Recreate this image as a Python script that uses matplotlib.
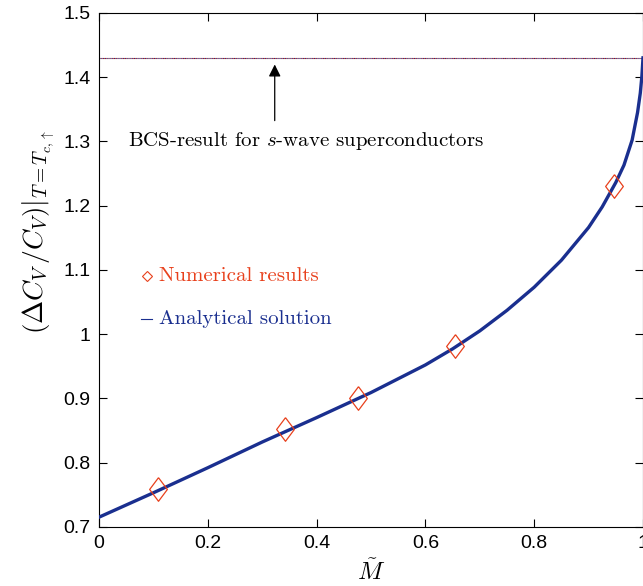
import matplotlib
matplotlib.use("Agg")
import matplotlib.pyplot as plt

# numerical results (diamonds)
num_x = [0.109, 0.341, 0.476, 0.654, 0.946]
num_y = [0.759, 0.852, 0.901, 0.982, 1.231]

# analytical solution
ana_x = [0.0, 0.1, 0.2, 0.3, 0.4, 0.5, 0.6, 0.65, 0.7, 0.75, 0.8, 0.85,
         0.9, 0.925, 0.95, 0.965, 0.98, 0.99, 0.995, 0.998, 1.0]
ana_y = [0.715, 0.753, 0.792, 0.832, 0.870, 0.909, 0.952, 0.977, 1.005,
         1.037, 1.073, 1.115, 1.166, 1.198, 1.236, 1.263, 1.302, 1.345,
         1.375, 1.402, 1.430]

bcs_value = 1.43

x_ticks = [0, 0.2, 0.4, 0.6, 0.8, 1]
x_ticklabels = ["0", "0.2", "0.4", "0.6", "0.8", "1"]
y_ticks = [0.7, 0.8, 0.9, 1.0, 1.1, 1.2, 1.3, 1.4, 1.5]
y_ticklabels = ["0.7", "0.8", "0.9", "1", "1.1", "1.2", "1.3", "1.4", "1.5"]

RED = "#e8401c"
BLUE = "#1a2f8f"

# slightly tall diamond, like the matlab one
tall_diamond = [(0, 1), (0.75, 0), (0, -1), (-0.75, 0), (0, 1)]

plt.rcParams["mathtext.fontset"] = "cm"
plt.rcParams["font.family"] = ["Liberation Sans", "DejaVu Sans"]

fig = plt.figure(figsize=(6.43, 5.86), dpi=100)
ax = fig.add_axes([0.154, 0.101, 0.846, 0.877])

# BCS limit: red and blue dotted lines on top of each other
ax.plot([0, 1], [bcs_value, bcs_value], color=RED, lw=0.8, ls=(0, (1, 1)))
ax.plot([0, 1], [bcs_value, bcs_value], color=BLUE, lw=0.8, ls=(1, (1, 1)))

ax.plot(ana_x, ana_y, color=BLUE, lw=2.4, zorder=3)
ax.plot(num_x, num_y, ls="none", marker=tall_diamond, ms=17, mfc="none",
        mec=RED, mew=0.9, zorder=4)

ax.annotate("", xy=(0.323, 1.424), xytext=(0.323, 1.328),
            arrowprops=dict(arrowstyle="-|>", color="black", lw=0.9,
                            mutation_scale=18))
ax.text(0.053, 1.30, r"BCS-result for $s$-wave superconductors",
        fontfamily="cmr10", fontsize=15, va="center", ha="left")

# hand-made legend
ax.plot([0.088], [1.090], ls="none", marker="D", ms=4.6, mfc="none", mec=RED, mew=0.8)
ax.text(0.110, 1.090, "Numerical results", color=RED, fontfamily="cmr10",
        fontsize=15, va="center", ha="left")
ax.plot([0.078, 0.097], [1.024, 1.024], color=BLUE, lw=0.8)
ax.text(0.110, 1.024, "Analytical solution", color=BLUE, fontfamily="cmr10",
        fontsize=15, va="center", ha="left")

ax.set_xlim(0, 1)
ax.set_ylim(0.7, 1.5)
ax.set_xticks(x_ticks)
ax.set_xticklabels(x_ticklabels)
ax.set_yticks(y_ticks)
ax.set_yticklabels(y_ticklabels)
ax.tick_params(direction="in", length=6, width=0.8, labelsize=14,
               top=True, right=True, pad=6)

ax.set_xlabel(r"$\tilde{M}$", fontsize=18, labelpad=5)
ax.set_ylabel(r"$\left.\left(\Delta C_V\,/C_V\right)\right|_{T=T_{c,\uparrow}}$",
              fontsize=20)
ax.yaxis.set_label_coords(-0.078, 0.574)

fig.savefig("out.png", dpi=100)
